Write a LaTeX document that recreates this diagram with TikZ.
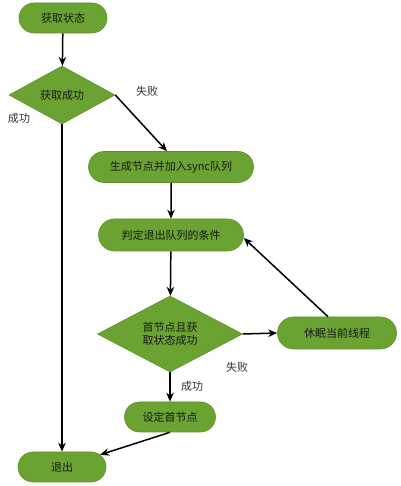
\documentclass[tikz,border=0pt]{standalone}
\usepackage{fontspec}
\usepackage{xcolor}
\usepackage{tikz}
\usetikzlibrary{shapes.geometric, shapes.misc, arrows.meta, positioning}
\newfontfamily\cjk{Noto Sans CJK SC}
\definecolor{leaf}{RGB}{106,163,50}
\definecolor{leafedge}{RGB}{92,145,42}

\begin{document}
\begin{tikzpicture}[x=1pt, y=1pt,
        every node/.style={font=\cjk\fontsize{11}{13.5}\selectfont},
        stadium/.style={rounded rectangle, fill=leaf, draw=leafedge, line width=0.6pt, inner sep=0pt, text=black!90},
        choice/.style={diamond, fill=leaf, draw=leafedge, line width=0.6pt, inner sep=0pt, aspect=1.9, align=center, text=black!90},
        lbl/.style={font=\cjk\fontsize{11}{13.5}\selectfont, text=black!80},
        flow/.style={line width=1.5pt, -{Stealth[length=9pt, width=7.5pt]}}]
        \useasboundingbox (0,0) rectangle (400,486);

        \node[stadium, minimum width=88, minimum height=30] (state) at (63,468) {获取状态};
        \node[choice, minimum width=106, minimum height=58] (tryget) at (62,391) {获取成功};
        \node[stadium, minimum width=165, minimum height=31] (enqueue) at (171,319) {生成节点并加入sync队列};
        \node[stadium, minimum width=145, minimum height=32] (check) at (171,251) {判定退出队列的条件};
        \node[choice, minimum width=145, minimum height=76] (headok) at (170,152) {首节点且获\\取状态成功};
        \node[stadium, minimum width=119, minimum height=32] (sleep) at (337,153) {休眠当前线程};
        \node[stadium, minimum width=91, minimum height=30] (sethead) at (170,69) {设定首节点};
        \node[stadium, minimum width=88, minimum height=30] (quit) at (62,19) {退出};

        \node[lbl] (ok1) at (19,368) {成功};
        \node[lbl] (fail1) at (147,395) {失败};
        \node[lbl] (fail2) at (237,119) {失败};
        \node[lbl] (ok2) at (192,100) {成功};

        \draw[flow] (state) -- (tryget);
        \draw[flow] (tryget.south) -- (quit.north);
        \draw[flow] (tryget.east) -- ([xshift=-4]enqueue.north);
        \draw[flow] (enqueue) -- (check);
        \draw[flow] (check) -- (headok);
        \draw[flow] (headok.east) -- (sleep.west);
        \draw[flow] ([xshift=-9]sleep.north) -- ([yshift=-3]check.east);
        \draw[flow] (headok.south) -- (sethead.north);
        \draw[flow] (sethead.south) -- (quit);
    \end{tikzpicture}
\end{document}
